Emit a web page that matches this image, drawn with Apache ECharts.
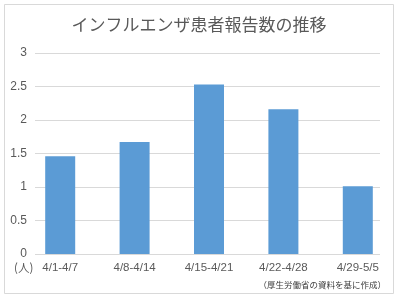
<!DOCTYPE html>
<html>
<head>
<meta charset="utf-8">
<script src="https://cdn.jsdelivr.net/npm/echarts@6/dist/echarts.min.js"></script>
<style>
html,body{margin:0;padding:0;background:#fff;}
#c{width:396px;height:297px;}
</style>
</head>
<body>
<div id="c"></div>
<script>
var titleText = 'インフルエンザ患者報告数の推移';
var categories = ['4/1-4/7', '4/8-4/14', '4/15-4/21', '4/22-4/28', '4/29-5/5'];
var values = [1.46, 1.67, 2.53, 2.16, 1.01];
var unitLabel = '(人)';
var sourceText = '（厚生労働省の資料を基に作成）';

var chart = echarts.init(document.getElementById('c'), null, {renderer: 'canvas'});
var txtColor = '#595959';
var gridColor = '#d9d9d9';
chart.setOption({
  animation: false,
  backgroundColor: '#fff',
  grid: [
    {left: 35, right: 16, top: 53, bottom: 43},
    {left: 23, right: 1, top: 53, bottom: 43}
  ],
  xAxis: [
    {gridIndex: 0, type: 'category', data: categories, show: false},
    {gridIndex: 1, type: 'category', data: categories,
     axisLine: {show: false}, axisTick: {show: false},
     axisLabel: {color: txtColor, fontSize: 11.5, fontFamily: 'Liberation Sans', margin: 8}}
  ],
  yAxis: [
    {gridIndex: 0, type: 'value', min: 0, max: 3, interval: 0.5,
     axisLine: {show: false}, axisTick: {show: false},
     axisLabel: {color: txtColor, fontSize: 12, fontFamily: 'Liberation Sans', margin: 8},
     splitLine: {lineStyle: {color: gridColor, width: 1}}},
    {gridIndex: 1, type: 'value', min: 0, max: 3, interval: 0.5, show: false,
     splitLine: {show: false}}
  ],
  series: [{
    type: 'bar', xAxisIndex: 1, yAxisIndex: 1,
    data: values, barWidth: 30,
    itemStyle: {color: '#5b9bd5'}
  }],
  graphic: [
    {type: 'rect', shape: {x: 4.5, y: 4.5, width: 389, height: 289},
     style: {fill: 'none', stroke: gridColor, lineWidth: 1}, z: -1},
    {type: 'text', x: 199, y: 25,
     style: {text: titleText, fill: txtColor, font: '17px "Noto Sans CJK JP"',
             textAlign: 'center', textVerticalAlign: 'middle'}},
    {type: 'text', x: 14, y: 268,
     style: {text: unitLabel, fill: txtColor, font: '11.5px "Noto Sans CJK JP"',
             textAlign: 'left', textVerticalAlign: 'middle'}},
    {type: 'text', x: 386, y: 285,
     style: {text: sourceText, fill: '#404040', font: '8.5px "Noto Sans CJK JP"',
             textAlign: 'right', textVerticalAlign: 'middle'}}
  ]
});
</script>
</body>
</html>
